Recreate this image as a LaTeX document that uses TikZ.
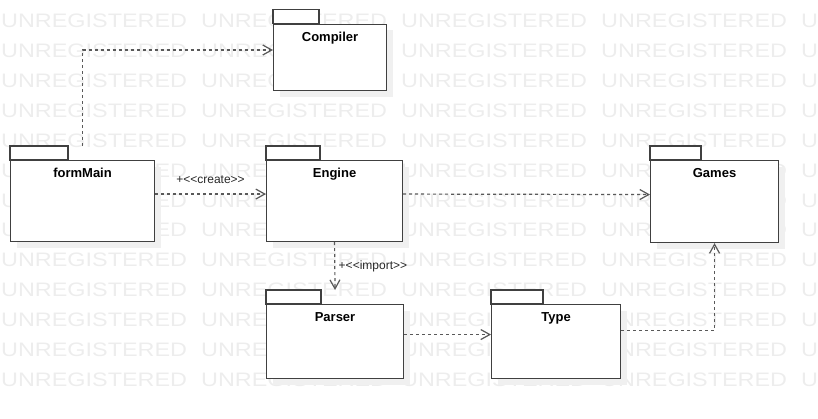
\documentclass[tikz,border=0pt]{standalone}
\usepackage{fontspec}
\setmainfont{Liberation Sans}
\usepackage{tikz}
\usetikzlibrary{arrows.meta,shadows,positioning}
\tikzstyle{package} = [rectangle, draw=black!75, line width=1.1pt, fill=white,
    anchor=north west, inner sep=0pt,
    drop shadow={shadow xshift=6pt, shadow yshift=-6pt, fill=black!6, opacity=1}]
\tikzstyle{tab} = [draw=black!75, line width=1.1pt, fill=white]
\tikzstyle{pkgname} = [font=\fontsize{13}{15}\selectfont\bfseries, anchor=base, yshift=-17.5pt]
\tikzstyle{line} = [draw=black!65, line width=1.2pt, dash pattern=on 3pt off 3pt,
    -{Straight Barb[length=9pt, width=10pt]}]
\tikzstyle{edgelabel} = [font=\fontsize{12}{14}\selectfont, text=black!85]
\tikzstyle{wmark} = [text=black!7, font=\fontsize{19.5}{21}\selectfont,
    anchor=base west, inner sep=0pt]
\begin{document}
\begin{tikzpicture}[x=1pt, y=-1pt]
    \useasboundingbox (0,0) rectangle (818,418);
    % Watermark
    \foreach \r in {0,...,12}
        \foreach \c in {0,...,4}
            \node [wmark] (wm-\r-\c) at (1+200*\c, 27.3+29.95*\r) {\scalebox{1.2}[1]{UNREGISTERED}};

    % Nodes
    \node [package, minimum width=113, minimum height=66.3] (compiler) at (273,23.7) {};
    \node [package, minimum width=144, minimum height=81] (formmain) at (10,160) {};
    \node [package, minimum width=136, minimum height=81] (engine) at (266,160) {};
    \node [package, minimum width=128, minimum height=82] (games) at (650,160) {};
    \node [package, minimum width=137, minimum height=74] (parser) at (266,304) {};
    \node [package, minimum width=129, minimum height=74] (type) at (491,304) {};
    \foreach \p/\w in {compiler/46, formmain/58, engine/54, games/51, parser/55, type/52}
        \draw [tab] (\p.north west) rectangle ++(\w,-14);
    \node [pkgname] (compiler-name) at (compiler.north) {Compiler};
    \node [pkgname] (formmain-name) at (formmain.north) {formMain};
    \node [pkgname] (engine-name) at (engine.north) {Engine};
    \node [pkgname] (games-name) at (games.north) {Games};
    \node [pkgname] (parser-name) at (parser.north) {Parser};
    \node [pkgname] (type-name) at (type.north) {Type};

    % Edges
    \path [line] ([yshift=14pt]formmain.north) |- ([yshift=7.4pt]compiler.west);
    \path [line] ([yshift=7pt]formmain.east) -- node [midway, above=6.5pt, edgelabel] {+<{}<create>{}>} ([yshift=7pt]engine.west);
    \path [line] ([yshift=7pt]engine.east) -- ([yshift=7pt]games.west);
    \path [line] (engine.south) -- node [midway, right, edgelabel] {+<{}<import>{}>} ([yshift=14pt]parser.north);
    \path [line] ([yshift=7pt]parser.east) -- ([yshift=7pt]type.west);
    \path [line] ([yshift=11pt]type.east) -| (games.south);
\end{tikzpicture}
\end{document}
